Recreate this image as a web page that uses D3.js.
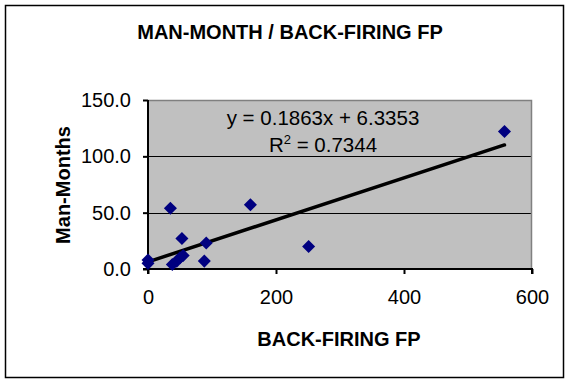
<!DOCTYPE html>
<html>
<head>
<meta charset="utf-8">
<script src="https://cdn.jsdelivr.net/npm/d3@7"></script>
<style>
  html, body { margin: 0; padding: 0; background: #fff; }
  svg { display: block; font-family: "Liberation Sans", Arial, sans-serif; }
</style>
</head>
<body>
<svg id="chart" width="569" height="383"></svg>
<script>
// Project size (back-firing function points) against effort (man-months)
const backFiringFP = [0, 0, 35, 38, 45, 50, 55, 53, 88, 91, 160, 251, 557];
const manMonths    = [8, 5, 54, 4, 7, 10, 12, 27, 7, 23, 57, 20, 122];

// Linear trend reported for the series
const trendSlope = 0.1863;
const trendIntercept = 6.3353;
const trendR2 = 0.7344;

const xTicks = [0, 200, 400, 600];
const yTicks = [0, 50, 100, 150];

const chartTitle = "MAN-MONTH / BACK-FIRING FP";
const xTitle = "BACK-FIRING FP";
const yTitle = "Man-Months";

const FONT = '"Liberation Sans", Arial, sans-serif';
const svg = d3.select("#chart");

// outer frame
svg.append("rect")
  .attr("x", 5.5).attr("y", 5.5)
  .attr("width", 558).attr("height", 372)
  .attr("fill", "#fff").attr("stroke", "#000").attr("stroke-width", 1.5);

const plot = { left: 148, right: 532, top: 100, bottom: 269 };

const x = d3.scaleLinear().domain([0, 600]).range([plot.left, plot.right]);
const y = d3.scaleLinear().domain([0, 150]).range([plot.bottom, plot.top]);

// plot background
svg.append("rect")
  .attr("x", plot.left).attr("y", plot.top)
  .attr("width", plot.right - plot.left).attr("height", plot.bottom - plot.top)
  .attr("fill", "#c0c0c0");

// horizontal gridlines
svg.append("g")
  .selectAll("line")
  .data(yTicks.filter(d => d > 0 && d < 150))
  .join("line")
  .attr("x1", plot.left).attr("x2", plot.right)
  .attr("y1", d => Math.round(y(d)) + 0.5).attr("y2", d => Math.round(y(d)) + 0.5)
  .attr("stroke", "#000").attr("stroke-width", 1);

// gray plot-area border (top and right)
svg.append("path")
  .attr("d", `M${plot.left},${plot.top + 0.5}H${plot.right - 0.5}V${plot.bottom}`)
  .attr("fill", "none").attr("stroke", "#808080").attr("stroke-width", 1.5);

// axes
const xAxis = d3.axisBottom(x).tickValues(xTicks).tickFormat(d3.format("d"))
  .tickSize(5).tickPadding(16);
const yAxis = d3.axisLeft(y).tickValues(yTicks).tickFormat(d3.format(".1f"))
  .tickSize(5).tickPadding(12);

const gx = svg.append("g").attr("transform", `translate(0,${plot.bottom})`).call(xAxis);
const gy = svg.append("g").attr("transform", `translate(${plot.left},0)`).call(yAxis);

[gx, gy].forEach(g => {
  g.select(".domain").attr("stroke", "#000").attr("stroke-width", 2);
  g.selectAll(".tick line").attr("stroke", "#000").attr("stroke-width", 2);
  g.selectAll(".tick text")
    .attr("fill", "#000")
    .style("font-family", FONT)
    .style("font-size", "20px");
});
gy.select(".domain").attr("d", `M-5,${plot.bottom}H0V${plot.top}`);
gx.select(".domain").attr("d", `M${plot.left},5V0H${plot.right}V5`);

// trend line drawn from the reported equation
const xMin = d3.min(backFiringFP), xMax = d3.max(backFiringFP);
svg.append("line")
  .attr("x1", x(xMin)).attr("y1", y(trendSlope * xMin + trendIntercept))
  .attr("x2", x(xMax)).attr("y2", y(trendSlope * xMax + trendIntercept))
  .attr("stroke", "#000").attr("stroke-width", 3.5).attr("stroke-linecap", "round");

// data points as navy diamonds
const diamond = d3.symbol().type(d3.symbolSquare).size(85);
svg.append("g")
  .selectAll("path")
  .data(backFiringFP.map((v, i) => [v, manMonths[i]]))
  .join("path")
  .attr("d", diamond)
  .attr("transform", d => `translate(${x(d[0])},${y(d[1])}) rotate(45)`)
  .attr("fill", "#000080");

// equation labels
const eq = svg.append("g").attr("text-anchor", "middle")
  .style("font-family", FONT).style("font-size", "20.5px").attr("fill", "#000");
eq.append("text").attr("x", 323).attr("y", 125)
  .text(`y = ${trendSlope}x + ${trendIntercept}`);
const r2 = eq.append("text").attr("x", 323).attr("y", 151.5);
r2.append("tspan").text("R");
r2.append("tspan").attr("dy", -8).style("font-size", "13px").text("2");
r2.append("tspan").attr("dy", 8).text(` = ${trendR2}`);

// titles
svg.append("text").attr("x", 290).attr("y", 39).attr("text-anchor", "middle")
  .style("font-size", "20px").style("font-weight", "bold").text(chartTitle);
svg.append("text").attr("x", 339).attr("y", 346).attr("text-anchor", "middle")
  .style("font-size", "20px").style("font-weight", "bold").text(xTitle);
svg.append("text")
  .attr("transform", "translate(70,185) rotate(-90)")
  .attr("text-anchor", "middle")
  .style("font-size", "20px").style("font-weight", "bold").text(yTitle);
</script>
</body>
</html>
